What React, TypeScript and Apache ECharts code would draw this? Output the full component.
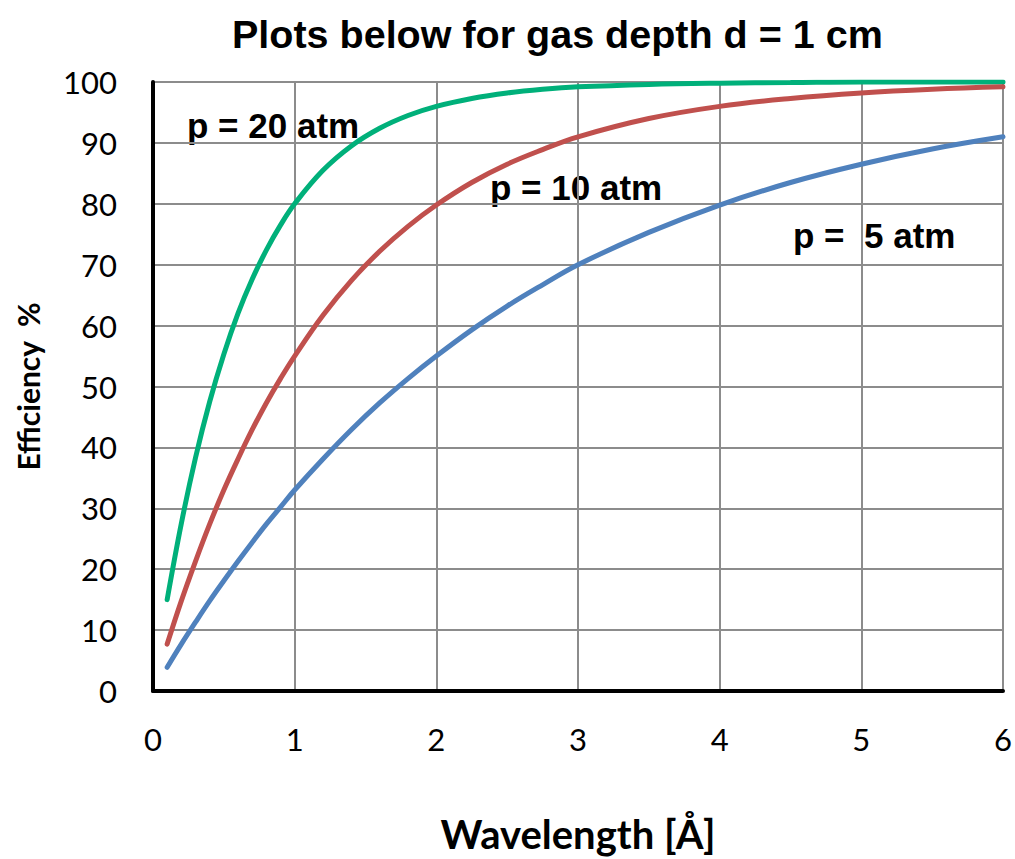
import React, { useEffect, useRef } from "react";
import * as echarts from "echarts";

const wavelengths = [0.1, 0.2, 0.3, 0.4, 0.5, 0.6, 0.7, 0.8, 0.9, 1.0, 1.2, 1.4, 1.6, 1.8, 2.0, 2.25, 2.5, 2.75, 3.0, 3.5, 4.0, 4.5, 5.0, 5.5, 6.0];
const eff20 = [15, 27.5, 38.3, 47.5, 55.3, 62, 67.6, 72.4, 76.5, 80, 85.5, 89.5, 92.4, 94.5, 96, 97.3, 98.2, 98.8, 99.2, 99.6, 99.8, 99.9, 100, 100, 100];
const eff10 = [7.7, 14.8, 21.3, 27.4, 33, 38.1, 42.9, 47.3, 51.3, 55, 61.7, 67.4, 72.2, 76.3, 79.8, 83.5, 86.5, 88.9, 91, 94, 96, 97.3, 98.2, 98.8, 99.2];
const eff5 = [3.9, 7.7, 11.3, 14.8, 18.1, 21.3, 24.4, 27.4, 30.2, 33, 38.1, 42.9, 47.3, 51.3, 55, 59.3, 63.2, 66.7, 70, 75.3, 79.8, 83.5, 86.5, 89, 91];

const seriesNames = ["p = 20 atm", "p = 10 atm", "p =  5 atm"];
const seriesColors = ["#00B07A", "#C0504D", "#4F81BD"];
const titleText = "Plots below for gas depth d = 1 cm";
const xName = "Wavelength [Å]";
const yName = "Efficiency  %";

const narrow = "'Liberation Sans Narrow', 'Arial Narrow', 'Liberation Sans', sans-serif";
const calibriLike = "Lato, 'Open Sans', sans-serif";

export default function App() {
  const ref = useRef<HTMLDivElement>(null);
  useEffect(() => {
    if (!ref.current) return;
    const chart = echarts.init(ref.current, undefined, { renderer: "svg" });
    const allData = [eff20, eff10, eff5];
    chart.setOption({
      animation: false,
      backgroundColor: "#ffffff",
      title: {
        text: titleText,
        left: 227,
        top: 9,
        textStyle: { fontFamily: narrow, fontWeight: "bold", fontSize: 39.5, color: "#000" },
      },
      grid: { left: 153, right: 11, top: 82, bottom: 165, containLabel: false },
      xAxis: {
        type: "value",
        min: 0,
        max: 6,
        interval: 1,
        name: xName,
        nameLocation: "middle",
        nameGap: 123,
        nameTextStyle: { fontFamily: calibriLike, fontWeight: "bold", fontSize: 40, color: "#000" },
        axisLine: { show: true, onZero: false, lineStyle: { color: "#000", width: 4 } },
        axisTick: { show: false },
        splitLine: { show: true, lineStyle: { color: "#8c8c8c", width: 2 } },
        axisLabel: { margin: 32, fontFamily: calibriLike, fontSize: 31, color: "#000" },
      },
      yAxis: {
        type: "value",
        min: 0,
        max: 100,
        interval: 10,
        name: yName,
        nameLocation: "middle",
        nameGap: 110,
        nameTextStyle: { fontFamily: calibriLike, fontWeight: "bold", fontSize: 30, color: "#000" },
        axisLine: { show: true, lineStyle: { color: "#000", width: 4 } },
        axisTick: { show: false },
        splitLine: { show: true, lineStyle: { color: "#8c8c8c", width: 2 } },
        axisLabel: { margin: 36, fontFamily: calibriLike, fontSize: 31, color: "#000", padding: [0, 0, 4, 0] },
      },
      series: allData.map((d, i) => ({
        name: seriesNames[i],
        type: "line",
        smooth: 0.4,
        showSymbol: false,
        symbol: "none",
        data: wavelengths.map((x, j) => [x, d[j]]),
        lineStyle: { color: seriesColors[i], width: 5, cap: "round" },
        itemStyle: { color: seriesColors[i] },
        z: 3 + i,
      })),
      graphic: [
        { type: "text", left: 187, top: 108, style: { text: seriesNames[0], font: `bold 35px ${narrow}`, fill: "#000" } },
        { type: "text", left: 490, top: 170, style: { text: seriesNames[1], font: `bold 35px ${narrow}`, fill: "#000" } },
        { type: "text", left: 793, top: 218, style: { text: seriesNames[2], font: `bold 35px ${narrow}`, fill: "#000" } },
      ],
    });
    return () => chart.dispose();
  }, []);
  return <div ref={ref} style={{ width: 1015, height: 859, position: "absolute", left: 0, top: 0 }} />;
}
